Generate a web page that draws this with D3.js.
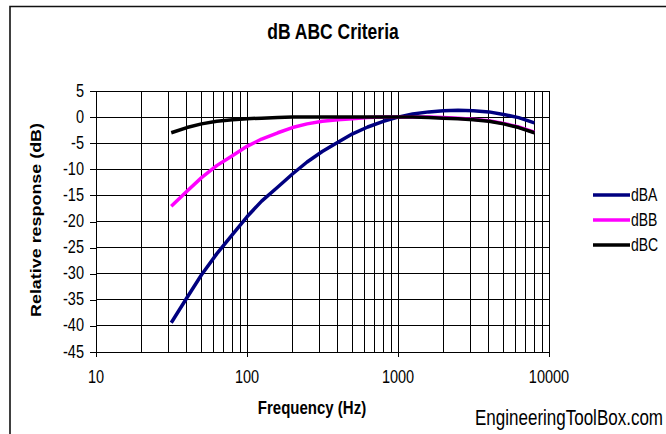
<!DOCTYPE html>
<html>
<head>
<meta charset="utf-8">
<script src="https://cdn.jsdelivr.net/npm/d3@7"></script>
<style>
  html, body { margin: 0; padding: 0; background: #fff; }
  svg { display: block; font-family: "Liberation Sans", Arial, sans-serif; }
</style>
</head>
<body>
<svg id="chart" width="666" height="434"></svg>
<script>
// ---- data ----
const title = "dB ABC Criteria";
const xTitle = "Frequency (Hz)";
const yTitle = "Relative response (dB)";
const credit = "EngineeringToolBox.com";
const freqs = [31.5, 40, 50, 63, 80, 100, 125, 160, 200, 250, 315, 400, 500, 630, 800, 1000, 1250, 1600, 2000, 2500, 3150, 4000, 5000, 6300, 8000];
const dBA = [-39.4, -34.6, -30.2, -26.2, -22.5, -19.1, -16.1, -13.4, -10.9, -8.6, -6.6, -4.8, -3.2, -1.9, -0.8, 0, 0.6, 1.0, 1.2, 1.3, 1.2, 1.0, 0.5, -0.1, -1.1];
const dBB = [-17.1, -14.2, -11.6, -9.3, -7.4, -5.6, -4.2, -3.0, -2.0, -1.3, -0.8, -0.5, -0.3, -0.1, 0, 0, 0, 0, -0.1, -0.2, -0.4, -0.7, -1.2, -1.9, -2.9];
const dBC = [-3.0, -2.0, -1.3, -0.8, -0.5, -0.3, -0.2, -0.1, 0, 0, 0, 0, 0, 0, 0, 0, 0, -0.1, -0.2, -0.3, -0.5, -0.8, -1.3, -2.0, -3.0];
const seriesNames = ["dBA", "dBB", "dBC"];
const seriesColors = ["#000080", "#FF00FF", "#000000"];
const yTicks = [5, 0, -5, -10, -15, -20, -25, -30, -35, -40, -45];
const xTickLabels = [10, 100, 1000, 10000];

const series = [dBA, dBB, dBC].map((vals, i) => ({
  name: seriesNames[i], color: seriesColors[i],
  pts: freqs.map((f, j) => [f, vals[j]])
}));

const svg = d3.select("#chart");
const SY = 1.28; // vertical stretch of the original raster text

function label(x, y, str, o) {
  o = o || {};
  return svg.append("text")
    .attr("transform", `translate(${x},${y}) ${o.rotate ? "rotate(" + o.rotate + ")" : ""} scale(${o.sx || 1},${o.sy || SY})`)
    .attr("text-anchor", o.anchor || "middle")
    .attr("font-size", o.size || 14)
    .attr("font-weight", o.bold ? "bold" : "normal")
    .attr("fill", "#000")
    .text(str);
}

// outer chart border
svg.append("path")
  .attr("d", "M10,434 V6.5 H666")
  .attr("fill", "none").attr("stroke", "#111").attr("stroke-width", 1.6);

const x = d3.scaleLog().domain([10, 10000]).range([96, 549]);
const y = d3.scaleLinear().domain([-45, 5]).range([352, 91]);

// grid
const grid = svg.append("g").attr("stroke", "#000").attr("stroke-width", 1).attr("shape-rendering", "crispEdges");
grid.selectAll("line.v").data(x.ticks()).join("line")
  .attr("x1", d => x(d)).attr("x2", d => x(d))
  .attr("y1", y(5)).attr("y2", y(-45));
grid.selectAll("line.h").data(yTicks).join("line")
  .attr("x1", x(10)).attr("x2", x(10000))
  .attr("y1", d => y(d)).attr("y2", d => y(d));

// axes (ticks and lines)
const yAxis = svg.append("g").attr("transform", `translate(${x(10)},0)`)
  .call(d3.axisLeft(y).tickValues(yTicks).tickSize(6).tickFormat(""));
const xAxis = svg.append("g").attr("transform", `translate(0,${y(-45)})`)
  .call(d3.axisBottom(x).tickValues(xTickLabels).tickSize(5).tickFormat(""));
[yAxis, xAxis].forEach(a => {
  a.selectAll("path,line").attr("stroke", "#000").attr("shape-rendering", "crispEdges");
});

// tick labels
yTicks.forEach(v => label(84, y(v) + 5.5, String(v), { anchor: "end", size: 14.5 }));
xTickLabels.forEach(v => label(x(v), 383, String(v), { size: 14.5 }));

// lines
const line = d3.line().x(d => x(d[0])).y(d => y(d[1]));
svg.append("g").selectAll("path").data(series).join("path")
  .attr("d", d => line(d.pts))
  .attr("fill", "none")
  .attr("stroke", d => d.color)
  .attr("stroke-width", 3.5)
  .attr("stroke-linejoin", "round");

// titles
label(333, 39, title, { size: 17.5, bold: true });
label(312, 414, xTitle, { size: 15, bold: true });
label(41, 220, yTitle, { size: 14, bold: true, rotate: -90, sx: SY, sy: 1 });
label(663, 425, credit, { anchor: "end", size: 17 });

// legend
const leg = svg.append("g");
series.forEach((s, i) => {
  const ly = 195 + i * 25;
  leg.append("line").attr("x1", 593).attr("x2", 630).attr("y1", ly).attr("y2", ly)
    .attr("stroke", s.color).attr("stroke-width", 3.5);
  label(631, ly + 5.5, s.name, { anchor: "start", size: 14 });
});
</script>
</body>
</html>
